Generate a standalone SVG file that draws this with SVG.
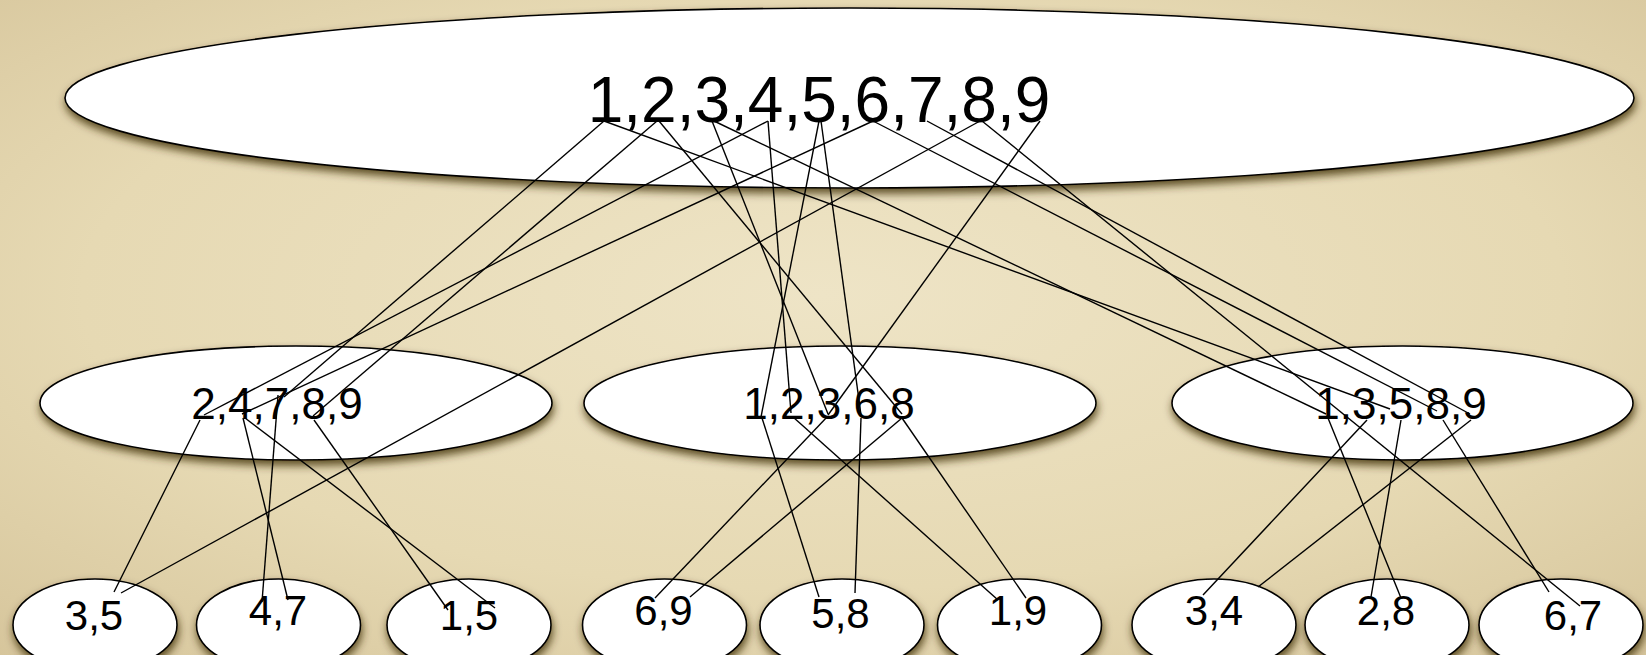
<svg xmlns="http://www.w3.org/2000/svg" width="1646" height="655" viewBox="0 0 1646 655">
<defs>
<radialGradient id="bg" cx="50%" cy="45%" r="75%">
<stop offset="0" stop-color="#EEE4C6"/>
<stop offset="0.6" stop-color="#E6D9B3"/>
<stop offset="1" stop-color="#D6C59B"/>
</radialGradient>
<filter id="sh" x="-10%" y="-20%" width="120%" height="150%">
<feGaussianBlur in="SourceAlpha" stdDeviation="4"/>
<feOffset dx="1" dy="5" result="b"/>
<feFlood flood-color="#3A2A08" flood-opacity="0.8"/>
<feComposite in2="b" operator="in"/>
<feMerge><feMergeNode/><feMergeNode in="SourceGraphic"/></feMerge>
</filter>
<style>
.n{fill:#FFFFFF;stroke:#000;stroke-width:1.6;filter:url(#sh)}
.t{font-family:"Liberation Sans",Arial,Helvetica,sans-serif;fill:#000;text-anchor:middle}
.big{font-size:64px}
.mid{font-size:44px}
.sm{font-size:42px}
.e line{stroke:#000;stroke-width:1.4;fill:none}
</style>
</defs>
<rect width="1646" height="655" fill="url(#bg)"/>
<g id="root">
<ellipse class="n" cx="849.5" cy="98" rx="784.5" ry="90"/>
<text class="t big" x="819" y="122">1,2,3,4,5,6,7,8,9</text>
</g>
<g id="mid-a">
<ellipse class="n" cx="296" cy="403" rx="256" ry="57"/>
<text class="t mid" x="277" y="419">2,4,7,8,9</text>
</g>
<g id="mid-b">
<ellipse class="n" cx="840" cy="403" rx="256" ry="57"/>
<text class="t mid" x="829" y="419">1,2,3,6,8</text>
</g>
<g id="mid-c">
<ellipse class="n" cx="1402.5" cy="403" rx="230.5" ry="57"/>
<text class="t mid" x="1401" y="419">1,3,5,8,9</text>
</g>
<g id="leaf-35">
<ellipse class="n" cx="95" cy="625" rx="82" ry="46"/>
<text class="t sm" x="94" y="630">3,5</text>
</g>
<g id="leaf-47">
<ellipse class="n" cx="278.5" cy="625" rx="82" ry="46"/>
<text class="t sm" x="278" y="625">4,7</text>
</g>
<g id="leaf-15">
<ellipse class="n" cx="469" cy="625" rx="82" ry="46"/>
<text class="t sm" x="469" y="630">1,5</text>
</g>
<g id="leaf-69">
<ellipse class="n" cx="664.5" cy="625" rx="82" ry="46"/>
<text class="t sm" x="663.5" y="625">6,9</text>
</g>
<g id="leaf-58">
<ellipse class="n" cx="842" cy="625" rx="82" ry="46"/>
<text class="t sm" x="840.5" y="628">5,8</text>
</g>
<g id="leaf-19">
<ellipse class="n" cx="1019.5" cy="625" rx="82" ry="46"/>
<text class="t sm" x="1018" y="625">1,9</text>
</g>
<g id="leaf-34">
<ellipse class="n" cx="1214" cy="625" rx="82" ry="46"/>
<text class="t sm" x="1214" y="625">3,4</text>
</g>
<g id="leaf-28">
<ellipse class="n" cx="1387" cy="625" rx="82" ry="46"/>
<text class="t sm" x="1386" y="625">2,8</text>
</g>
<g id="leaf-67">
<ellipse class="n" cx="1561" cy="625" rx="82" ry="46"/>
<text class="t sm" x="1573" y="630">6,7</text>
</g>
<g id="connectors" class="e">
<line x1="604" y1="121" x2="284" y2="397"/>
<line x1="604" y1="121" x2="1390" y2="409"/>
<line x1="657" y1="121" x2="313" y2="416"/>
<line x1="659" y1="121" x2="902" y2="414"/>
<line x1="712" y1="121" x2="828" y2="414"/>
<line x1="714" y1="121" x2="1326" y2="414"/>
<line x1="768" y1="121" x2="204" y2="415"/>
<line x1="768" y1="121" x2="791" y2="413"/>
<line x1="819" y1="121" x2="761" y2="417"/>
<line x1="821" y1="121" x2="861" y2="415"/>
<line x1="873" y1="121" x2="242" y2="414"/>
<line x1="873" y1="121" x2="1437" y2="411"/>
<line x1="927" y1="121" x2="1470" y2="414"/>
<line x1="980" y1="121" x2="121" y2="593"/>
<line x1="982" y1="121" x2="1580" y2="606"/>
<line x1="1040" y1="121" x2="828" y2="415"/>
<line x1="200" y1="420" x2="114" y2="592"/>
<line x1="243" y1="418" x2="288" y2="600"/>
<line x1="245" y1="418" x2="495" y2="608"/>
<line x1="278" y1="395" x2="262" y2="602"/>
<line x1="314" y1="420" x2="448" y2="610"/>
<line x1="762" y1="418" x2="819" y2="597"/>
<line x1="793" y1="417" x2="998" y2="600"/>
<line x1="827" y1="417" x2="655" y2="598"/>
<line x1="861" y1="418" x2="855" y2="593"/>
<line x1="902" y1="418" x2="690" y2="597"/>
<line x1="902" y1="418" x2="1026" y2="598"/>
<line x1="1328" y1="418" x2="1401" y2="598"/>
<line x1="1367" y1="420" x2="1203" y2="595"/>
<line x1="1401" y1="420" x2="1371" y2="597"/>
<line x1="1443" y1="420" x2="1549" y2="592"/>
<line x1="1471" y1="420" x2="1258" y2="587"/>
</g>
</svg>
